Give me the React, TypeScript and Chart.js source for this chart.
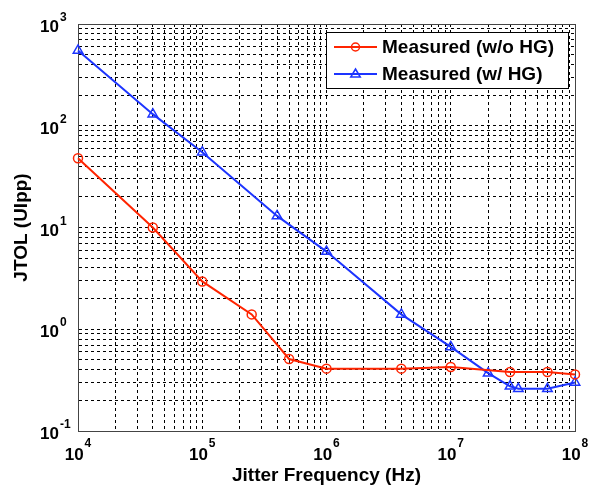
import React, { useEffect, useRef } from "react";
import { Chart, registerables } from "chart.js";

Chart.register(...registerables);

// ---- data ----
const freqWithoutHG = [1e4, 4e4, 1e5, 2.5e5, 5e5, 1e6, 4e6, 1e7, 3e7, 6e7, 1e8];
const jtolWithoutHG = [48, 10, 2.95, 1.4, 0.51, 0.41, 0.41, 0.425, 0.38, 0.38, 0.36];
const freqWithHG = [1e4, 4e4, 1e5, 4e5, 1e6, 4e6, 1e7, 2e7, 3e7, 3.5e7, 6e7, 1e8];
const jtolWithHG = [550, 130, 55, 13, 5.8, 1.4, 0.67, 0.37, 0.275, 0.26, 0.26, 0.3];

const seriesLabels = ["Measured (w/o HG)", "Measured (w/ HG)"];
const xDecades = [4, 5, 6, 7, 8];
const yDecades = [-1, 0, 1, 2, 3];
const xTitle = "Jitter Frequency (Hz)";
const yTitle = "JTOL (UIpp)";

const RED = "rgb(255,36,0)";
const BLUE = "rgb(28,52,255)";
const FONT = "'Liberation Sans', Arial, sans-serif";

function logTicks(minExp: number, maxExp: number) {
  const out: { value: number }[] = [];
  for (let e = minExp; e < maxExp; e++) {
    for (let m = 1; m <= 9; m++) out.push({ value: m * Math.pow(10, e) });
  }
  out.push({ value: Math.pow(10, maxExp) });
  return out;
}

const decoPlugin = {
  id: "deco",
  beforeDatasetsDraw(chart: any) {
    const { ctx, chartArea: a } = chart;
    ctx.save();
    ctx.strokeStyle = "#444";
    ctx.lineWidth = 1;
    ctx.strokeRect(Math.round(a.left) + 0.5, Math.round(a.top) + 0.5, Math.round(a.right - a.left) - 1 + 1, Math.round(a.bottom - a.top) - 1 + 1);
    ctx.restore();
  },
  afterDraw(chart: any) {
    const { ctx } = chart;
    const xs = chart.scales.x;
    const ys = chart.scales.y;
    ctx.save();
    ctx.fillStyle = "#000";
    ctx.textBaseline = "alphabetic";
    const big = `bold 17px ${FONT}`;
    const small = `bold 12px ${FONT}`;
    // x tick labels
    xDecades.forEach((e) => {
      const px = xs.getPixelForValue(Math.pow(10, e));
      ctx.font = big;
      const w1 = ctx.measureText("10").width;
      ctx.font = small;
      const exp = String(e);
      const w2 = ctx.measureText(exp).width;
      const start = px - (w1 + 1 + w2) / 2;
      ctx.font = big;
      ctx.textAlign = "left";
      ctx.fillText("10", start, 460);
      ctx.font = small;
      ctx.fillText(exp, start + w1 + 1, 447);
    });
    // y tick labels
    yDecades.forEach((e) => {
      const py = ys.getPixelForValue(Math.pow(10, e));
      ctx.font = big;
      ctx.textAlign = "left";
      const w1 = ctx.measureText("10").width;
      ctx.fillText("10", 40, py + 8);
      ctx.font = small;
      ctx.fillText(String(e), 40 + w1 + 1, py - 3);
    });

    // legend
    const bx = 326, by = 32, bw = 242, bh = 56;
    ctx.fillStyle = "#fff";
    ctx.fillRect(bx, by, bw, bh);
    ctx.strokeStyle = "#000";
    ctx.lineWidth = 1;
    ctx.strokeRect(bx + 0.5, by + 0.5, bw, bh);
    const rows = [47, 74];
    chart.data.datasets.forEach((ds: any, i: number) => {
      const y = rows[i];
      ctx.strokeStyle = ds.borderColor;
      ctx.lineWidth = 2;
      ctx.beginPath();
      ctx.moveTo(334, y);
      ctx.lineTo(377, y);
      ctx.stroke();
      const cx = 355.5;
      ctx.beginPath();
      if (ds.pointStyle === "triangle") {
        const r = 5;
        ctx.moveTo(cx, y - r);
        ctx.lineTo(cx + r * 0.95, y + r * 0.6);
        ctx.lineTo(cx - r * 0.95, y + r * 0.6);
        ctx.closePath();
      } else {
        ctx.arc(cx, y, 4, 0, Math.PI * 2);
      }
      ctx.lineWidth = 1.5;
      ctx.stroke();
      ctx.fillStyle = "#000";
      ctx.font = `bold 19px ${FONT}`;
      ctx.textAlign = "left";
      ctx.textBaseline = "middle";
      ctx.fillText(ds.label, 382, y + 1);
    });
    ctx.restore();
  },
};

export default function App() {
  const ref = useRef<HTMLCanvasElement | null>(null);
  useEffect(() => {
    if (!ref.current) return;
    const chart = new Chart(ref.current, {
      type: "line",
      data: {
        datasets: [
          {
            label: seriesLabels[0],
            data: freqWithoutHG.map((x, i) => ({ x, y: jtolWithoutHG[i] })),
            borderColor: RED,
            backgroundColor: "rgba(0,0,0,0)",
            borderWidth: 2,
            pointStyle: "circle",
            pointRadius: 4.5,
            pointBorderWidth: 1.5,
            pointBorderColor: RED,
            pointBackgroundColor: "rgba(0,0,0,0)",
            tension: 0,
            clip: false as any,
          },
          {
            label: seriesLabels[1],
            data: freqWithHG.map((x, i) => ({ x, y: jtolWithHG[i] })),
            borderColor: BLUE,
            backgroundColor: "rgba(0,0,0,0)",
            borderWidth: 2,
            pointStyle: "triangle",
            pointRadius: 5.5,
            pointBorderWidth: 1.5,
            pointBorderColor: BLUE,
            pointBackgroundColor: "rgba(0,0,0,0)",
            tension: 0,
            clip: false as any,
          },
        ],
      },
      options: {
        responsive: false,
        animation: false,
        devicePixelRatio: 1,
        layout: { padding: { left: 0, top: 24, right: 17, bottom: 0 } },
        plugins: { legend: { display: false }, tooltip: { enabled: false } },
        scales: {
          x: {
            type: "logarithmic",
            min: 1e4,
            max: 1e8,
            afterBuildTicks: (s: any) => {
              s.ticks = logTicks(4, 8);
            },
            afterFit: (s: any) => {
              s.height = 56;
            },
            ticks: { display: false },
            grid: { color: "#000", lineWidth: 1, drawTicks: false },
            border: { display: true, color: "#444", width: 1, dash: [3, 3] },
            title: {
              display: true,
              text: xTitle,
              color: "#000",
              font: { family: FONT, size: 19, weight: "bold" },
              padding: { top: 0, bottom: 0 },
            },
          },
          y: {
            type: "logarithmic",
            min: 0.1,
            max: 1000,
            afterBuildTicks: (s: any) => {
              s.ticks = logTicks(-1, 3);
            },
            afterFit: (s: any) => {
              s.width = 78;
            },
            ticks: { display: false },
            grid: { color: "#000", lineWidth: 1, drawTicks: false },
            border: { display: true, color: "#444", width: 1, dash: [3, 3] },
            title: {
              display: true,
              text: yTitle,
              color: "#000",
              font: { family: FONT, size: 19, weight: "bold" },
              padding: { top: 10, bottom: 0 },
            },
          },
        },
      },
      plugins: [decoPlugin],
    } as any);
    return () => chart.destroy();
  }, []);
  return (
    <div style={{ position: "fixed", left: 0, top: 0, width: 592, height: 487, background: "#fff" }}>
      <canvas ref={ref} width={592} height={487} style={{ width: 592, height: 487, display: "block" }} />
    </div>
  );
}
